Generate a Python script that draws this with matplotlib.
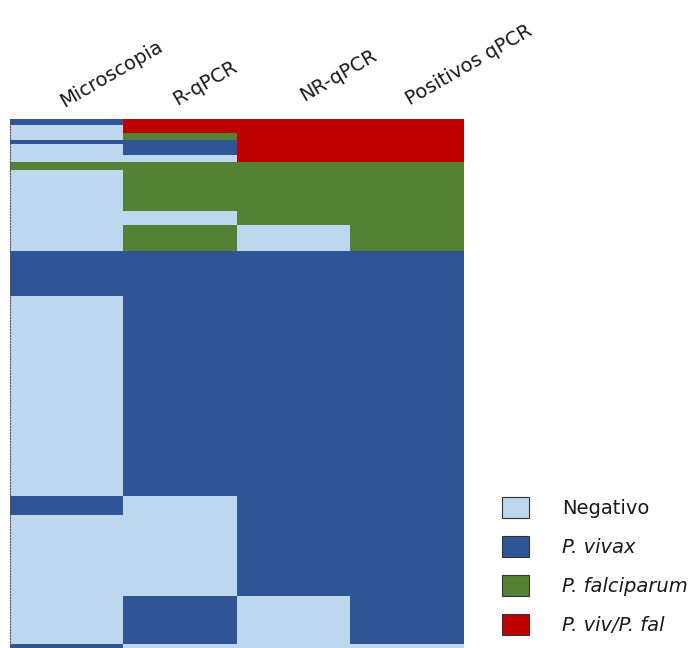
import numpy as np
import matplotlib
matplotlib.use("Agg")
import matplotlib.pyplot as plt
from matplotlib.colors import ListedColormap
from matplotlib.patches import Patch

# -----------------------------
# Data (codes: 0 Negativo, 1 P. vivax, 2 P. falciparum, 3 P. viv/P. fal)
# -----------------------------
columns = ["Microscopia", "R-qPCR", "NR-qPCR", "Positivos qPCR"]
group_sizes = [2, 2, 2, 1, 3, 2, 2, 11, 4, 7, 12, 54, 5, 22, 13, 1]
microscopia = [1, 0, 0, 1, 0, 0, 2, 0, 0, 0, 1, 0, 1, 0, 0, 1]
r_qpcr      = [3, 3, 2, 1, 1, 0, 2, 2, 0, 2, 1, 1, 0, 0, 1, 0]
nr_qpcr     = [3, 3, 3, 3, 3, 3, 2, 2, 2, 0, 1, 1, 1, 1, 0, 0]
positivos   = [3, 3, 3, 3, 3, 3, 2, 2, 2, 2, 1, 1, 1, 1, 1, 0]

categories = ["Negativo", "P. vivax", "P. falciparum", "P. viv/P. fal"]
colors = ["#BDD7EE", "#2F5597", "#548235", "#C00000"]

matrix = np.column_stack([
    np.repeat(microscopia, group_sizes),
    np.repeat(r_qpcr, group_sizes),
    np.repeat(nr_qpcr, group_sizes),
    np.repeat(positivos, group_sizes),
])

plt.rcParams["font.family"] = ["DejaVu Sans"]

W, H = 694, 648
fig = plt.figure(figsize=(W / 100, H / 100), dpi=100)

# ---- heatmap ----
left, right, top = 10, 463.3, 118.5
ax = fig.add_axes([left / W, 0, (right - left) / W, (H - top) / H])
cmap = ListedColormap(colors)
ax.imshow(matrix, cmap=cmap, vmin=-0.5, vmax=3.5, aspect="auto",
          interpolation="nearest")
ax.set_xticks([])
ax.set_yticks([])
for side in ["top", "right", "bottom"]:
    ax.spines[side].set_visible(False)
ax.spines["left"].set_linestyle(":")
ax.spines["left"].set_color("#555555")
ax.spines["left"].set_linewidth(0.8)

# ---- column labels (rotated) ----
label_centers = [(111.5, 74), (205.5, 83), (338, 75), (469, 65)]
for name, (cx, cy) in zip(columns, label_centers):
    fig.text(cx / W, 1 - cy / H, name, rotation=30, rotation_mode="anchor",
             ha="center", va="center", fontsize=14, color="#1a1a1a")

# ---- legend ----
handles = [Patch(facecolor=c, edgecolor="#333333", linewidth=0.8) for c in colors]
leg = ax.legend(handles, categories, loc="upper left",
                bbox_to_anchor=(501.7 / W, 1 - 497 / H),
                bbox_transform=fig.transFigure, frameon=False,
                borderpad=0, borderaxespad=0, fontsize=14,
                handlelength=1.42, handleheight=1.3, handletextpad=1.67,
                labelspacing=0.92)
for t in leg.get_texts()[1:]:
    t.set_style("italic")
for t in leg.get_texts():
    t.set_color("#1a1a1a")

fig.savefig("out.png", dpi=100)
